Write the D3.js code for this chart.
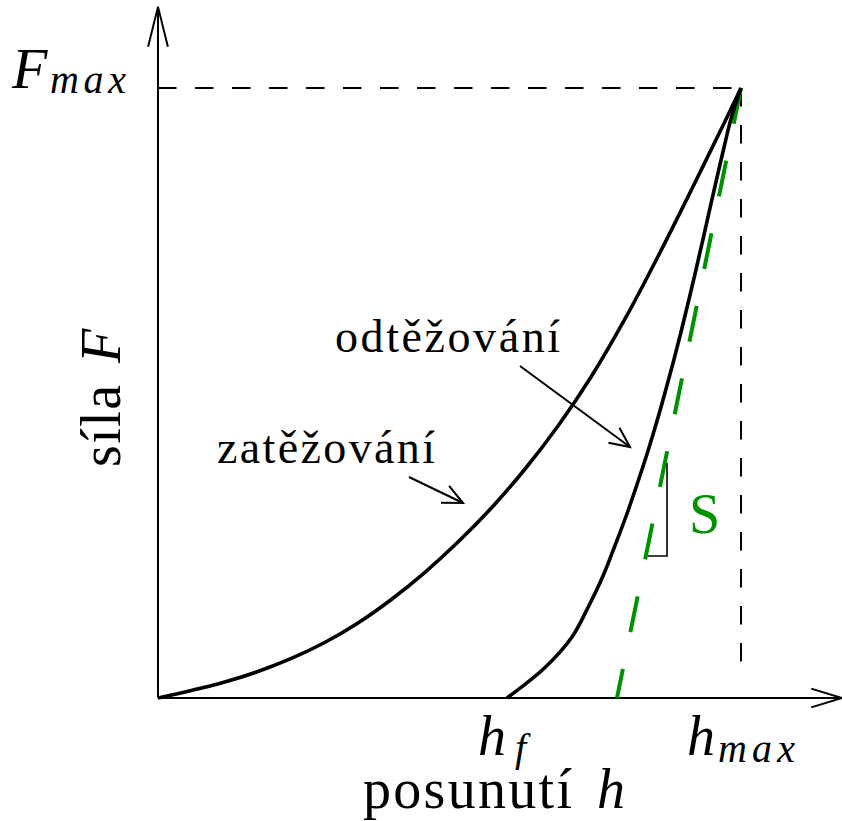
<!DOCTYPE html>
<html>
<head>
<meta charset="utf-8">
<script src="https://cdn.jsdelivr.net/npm/d3@7"></script>
<style>
  body { margin: 0; background: #fff; }
</style>
</head>
<body>
<svg id="chart" width="842" height="821"></svg>
<script>
// posunuti h (relative to hmax) and sila F (relative to Fmax)
var loadH = [0, 0.0572, 0.1144, 0.1715, 0.2287, 0.2859, 0.3431, 0.4002, 0.4574, 0.5146, 0.5718, 0.6289, 0.6861, 0.7433, 0.8005, 0.8576, 0.9148, 0.9720, 1];
var loadF = [0, 0.0123, 0.0262, 0.0434, 0.0648, 0.0910, 0.1230, 0.1615, 0.2057, 0.2557, 0.3115, 0.3746, 0.4459, 0.5270, 0.6205, 0.7238, 0.8328, 0.9443, 1];

var unloadH = [0.5986, 0.6638, 0.7101, 0.7384, 0.7633, 0.7839, 0.8036, 0.8216, 0.8388, 0.8547, 0.8695, 0.8837, 0.8971, 0.9099, 0.9223, 0.9343, 0.9461, 0.9580, 0.9702, 0.9830, 1];
var unloadF = [0, 0.05, 0.10, 0.15, 0.20, 0.25, 0.30, 0.35, 0.40, 0.45, 0.50, 0.55, 0.60, 0.65, 0.70, 0.75, 0.80, 0.85, 0.90, 0.95, 1];

// tangent S at the top of unloading
var tangentH = [1, 0.7873];
var tangentF = [1, 0];

// slope triangle next to the tangent
var triH = [0.8405, 0.8731, 0.8731];
var triF = [0.2328, 0.2328, 0.3852];

var hf = 0.5986, hmax = 1, Fmax = 1;
var hAxisEnd = 1.173, FAxisEnd = 1.133;

var green = '#009100';
var serif = '"Liberation Serif", "DejaVu Serif", "Times New Roman", serif';

var svg = d3.select('#chart');
var x = d3.scaleLinear().domain([0, 1]).range([158, 741]);
var y = d3.scaleLinear().domain([0, 1]).range([698, 88]);

function zip(a, b) {
  var r = [];
  for (var i = 0; i < a.length; i++) r.push([a[i], b[i]]);
  return r;
}

// open arrow head: two barbs back from the tip
function barbs(x1, y1, x2, y2, len, ang) {
  var t = Math.atan2(y2 - y1, x2 - x1);
  var a = ang * Math.PI / 180;
  return 'M' + (x2 - len * Math.cos(t + a)) + ',' + (y2 - len * Math.sin(t + a)) +
    'L' + x2 + ',' + y2 +
    'L' + (x2 - len * Math.cos(t - a)) + ',' + (y2 - len * Math.sin(t - a));
}

// axes
svg.append('line').attr('x1', x(0)).attr('y1', y(0)).attr('x2', x(hAxisEnd)).attr('y2', y(0))
  .attr('stroke', '#000').attr('stroke-width', 2);
svg.append('path').attr('d', barbs(x(0), y(0), x(hAxisEnd), y(0), 32, 17))
  .attr('fill', 'none').attr('stroke', '#000').attr('stroke-width', 2);
svg.append('line').attr('x1', x(0)).attr('y1', y(0)).attr('x2', x(0)).attr('y2', y(FAxisEnd))
  .attr('stroke', '#000').attr('stroke-width', 2);
svg.append('path').attr('d', barbs(x(0), y(0), x(0), y(FAxisEnd), 41, 14))
  .attr('fill', 'none').attr('stroke', '#000').attr('stroke-width', 2);

// guide lines to Fmax / hmax
svg.append('line').attr('x1', x(0)).attr('y1', y(Fmax)).attr('x2', x(hmax)).attr('y2', y(Fmax))
  .attr('stroke', '#000').attr('stroke-width', 2).attr('stroke-dasharray', '18.5,18.5');
svg.append('line').attr('x1', x(hmax)).attr('y1', y(Fmax)).attr('x2', x(hmax)).attr('y2', y(0.03))
  .attr('stroke', '#000').attr('stroke-width', 2).attr('stroke-dasharray', '18.5,18.5');

var line = d3.line().x(function (d) { return x(d[0]); }).y(function (d) { return y(d[1]); });

// slope triangle
svg.append('path').attr('d', line(zip(triH, triF)))
  .attr('fill', 'none').attr('stroke', '#000').attr('stroke-width', 1.6);

// tangent
svg.append('path').attr('d', line(zip(tangentH, tangentF)))
  .attr('fill', 'none').attr('stroke', green).attr('stroke-width', 4)
  .attr('stroke-dasharray', '36.5,37.6');

var curve = d3.line().curve(d3.curveCatmullRom.alpha(0.5))
  .x(function (d) { return x(d[0]); }).y(function (d) { return y(d[1]); });

svg.append('path').attr('d', curve(zip(loadH, loadF)))
  .attr('fill', 'none').attr('stroke', '#000').attr('stroke-width', 3.6).attr('stroke-linejoin', 'round');
svg.append('path').attr('d', curve(zip(unloadH, unloadF)))
  .attr('fill', 'none').attr('stroke', '#000').attr('stroke-width', 3.6).attr('stroke-linejoin', 'round');

// annotation arrows
svg.append('line').attr('x1', 409).attr('y1', 477).attr('x2', 463).attr('y2', 503)
  .attr('stroke', '#000').attr('stroke-width', 2);
svg.append('path').attr('d', barbs(409, 477, 463, 503, 22, 25))
  .attr('fill', 'none').attr('stroke', '#000').attr('stroke-width', 2);
svg.append('line').attr('x1', 520).attr('y1', 366).attr('x2', 630).attr('y2', 447)
  .attr('stroke', '#000').attr('stroke-width', 2);
svg.append('path').attr('d', barbs(520, 366, 630, 447, 22, 25))
  .attr('fill', 'none').attr('stroke', '#000').attr('stroke-width', 2);

// texts
function label(parent, txt, px, py, size, italic, len) {
  var t = parent.append('text').attr('x', px).attr('y', py)
    .style('font-family', serif).style('font-size', size + 'px').text(txt);
  if (italic) t.style('font-style', 'italic');
  if (len) t.attr('textLength', len).attr('lengthAdjust', 'spacing');
  return t;
}

label(svg, 'F', 12, 88, 58, true);
label(svg, 'max', 50, 93, 40, true, 76);

label(svg, 'h', 478, 755, 56, true);
label(svg, 'f', 515, 761, 40, true);
label(svg, 'h', 687, 755, 56, true);
label(svg, 'max', 718, 762, 40, true, 77);

label(svg, 'posunutí', 363, 808, 56, false, 209);
label(svg, 'h', 597, 808, 56, true);

var g = svg.append('g').attr('transform', 'translate(120,467) rotate(-90)');
label(g, 'síla', 0, 0, 56, false, 82);
label(g, 'F', 104, 0, 56, true);

label(svg, 'zatěžování', 217, 463, 46, false, 218);
label(svg, 'odtěžování', 335, 352, 46, false, 225);

label(svg, 'S', 689, 533, 56, false).style('fill', green);
</script>
</body>
</html>
